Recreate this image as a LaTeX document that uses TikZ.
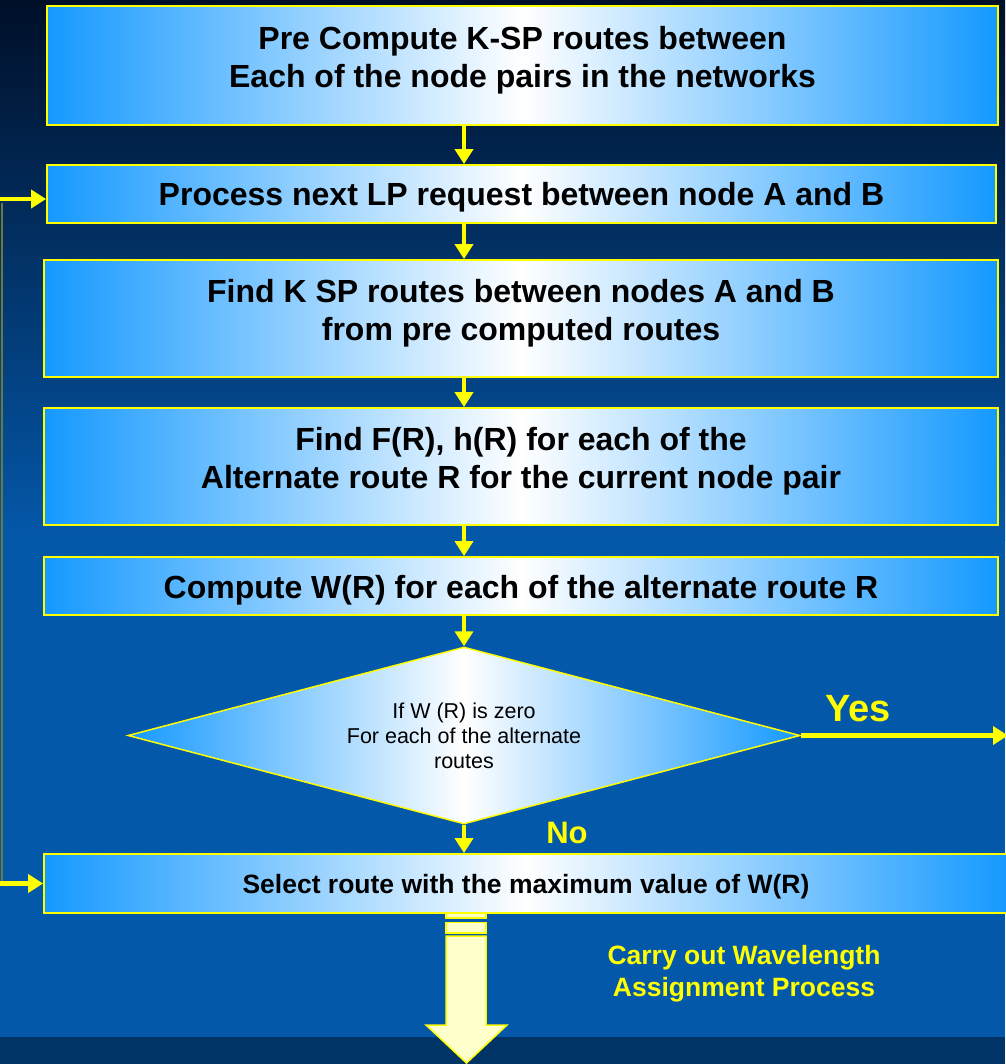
\documentclass[tikz,border=0pt]{standalone}
\usepackage{fontspec}
\setmainfont{Liberation Sans}
\usetikzlibrary{shapes.geometric,arrows.meta}
\definecolor{bgtop}{HTML}{000F28}
\definecolor{bgmid}{HTML}{0458AA}
\definecolor{bgbot}{HTML}{003366}
\definecolor{boxblue}{HTML}{1599FF}
\definecolor{ylw}{HTML}{FFFF00}
\definecolor{pale}{HTML}{FFFFCC}
\definecolor{olive}{HTML}{6B7A3A}
\begin{document}
\begin{tikzpicture}[x=1pt,y=-1pt,
  box/.style={draw=ylw, line width=1.8pt, left color=boxblue, right color=boxblue, middle color=white,
    inner sep=0pt, align=center, text=black, font=\bfseries\fontsize{32}{38}\selectfont},
  oneline/.style={text height=31pt, text depth=7pt},
  twoline/.style={text height=61pt, text depth=17pt},
  arr/.style={draw=ylw, line width=4.5pt, -{Triangle[width=18pt,length=15pt]}},
  loopline/.style={draw=olive, line width=2pt},
  bigarr/.style={fill=pale, draw=ylw, line width=1.5pt},
  lbl/.style={text=ylw, inner sep=0pt, align=center},
  decision/.style={diamond, draw=ylw, line width=1.5pt, left color=boxblue, right color=boxblue, middle color=white,
    inner sep=0pt, aspect=3.8, align=center, text=black, font=\fontsize{21.5}{25}\selectfont}]
% background
\fill[top color=bgtop, bottom color=bgmid] (0,0) rectangle (1005,540);
\fill[bgmid] (0,539) rectangle (1005,1037);
\fill[bgbot] (0,1037) rectangle (1005,1064);
\useasboundingbox (0,0) rectangle (1005,1064);

% boxes
\node[box, twoline, minimum width=951pt, minimum height=119pt] (b1) at (522.5,65.5)
  {Pre Compute K-SP routes between\\Each of the node pairs in the networks};
\node[box, oneline, minimum width=949pt, minimum height=58pt] (b2) at (521.5,194)
  {Process next LP request between node A and B};
\node[box, twoline, minimum width=954pt, minimum height=117pt] (b3) at (521,318.5)
  {Find K SP routes between nodes A and B\\from pre computed routes};
\node[box, twoline, minimum width=954pt, minimum height=117pt] (b4) at (521,466.5)
  {Find F(R), h(R) for each of the\\Alternate route R for the current node pair};
\node[box, oneline, minimum width=954pt, minimum height=58pt] (b5) at (521,586)
  {Compute W(R) for each of the alternate route R};
\node[decision, minimum width=672pt, minimum height=177pt] (d) at (464,735.5)
  {If W (R) is zero\\For each of the alternate\\routes};

% big output arrow
\draw[bigarr] (446,913) rectangle (486,918);
\draw[bigarr] (446,922.5) rectangle (486,933);
\draw[bigarr] (446,936) -- (486,936) -- (486,1025) -- (507,1025) -- (466.5,1063)
  -- (426,1025) -- (446,1025) -- cycle;

\node[box, minimum width=964pt, minimum height=59pt, text height=26pt, text depth=6pt,
  font=\bfseries\fontsize{26.5}{30}\selectfont] (b6) at (526,883.5)
  {Select route with the maximum value of W(R)};

% vertical flow arrows
\draw[arr] (b1.south -| d.north) -- (b2.north -| d.north);
\draw[arr] (b2.south -| d.north) -- (b3.north -| d.north);
\draw[arr] (b3.south -| d.north) -- (b4.north -| d.north);
\draw[arr] (b4.south -| d.north) -- (b5.north -| d.north);
\draw[arr] (b5.south -| d.north) -- (d.north);
\draw[arr] (d.south) -- (b6.north -| d.south);

% yes branch
\coordinate (yesend) at (1008,735.5);
\draw[arr] (d.east) -- (yesend);
\node[lbl, font=\bfseries\fontsize{38}{42}\selectfont] (yes) at (858,709) {Yes};
\node[lbl, font=\bfseries\fontsize{31}{34}\selectfont] (no) at (567,833) {No};

% loop back
\coordinate (lt) at (0,199);
\coordinate (lv1) at (2,203);
\coordinate (lv2) at (2,883.5);
\coordinate (lb) at (0,883.5);
\draw[loopline] (lv1) -- (lv2);
\draw[arr] (lt) -- (lt -| b2.west);
\draw[arr] (lb) -- (b6.west);

% output label
\node[lbl, font=\bfseries\fontsize{26.5}{32}\selectfont] (carry) at (744,974)
  {Carry out Wavelength\\Assignment Process};
\end{tikzpicture}
\end{document}
